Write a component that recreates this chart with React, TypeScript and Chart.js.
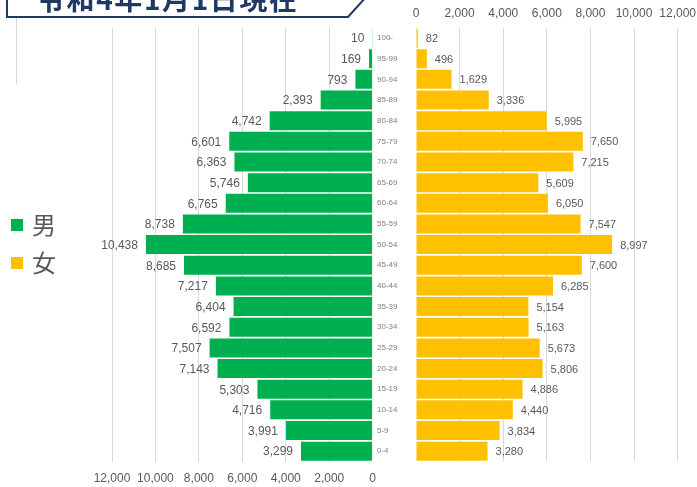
import React, { useEffect, useRef } from 'react';
import { Chart, registerables } from 'chart.js';

Chart.register(...registerables);

const ageGroups = ['100-', '95-99', '90-94', '85-89', '80-84', '75-79', '70-74', '65-69', '60-64', '55-59', '50-54', '45-49', '40-44', '35-39', '30-34', '25-29', '20-24', '15-19', '10-14', '5-9', '0-4'];
const male = [10, 169, 793, 2393, 4742, 6601, 6363, 5746, 6765, 8738, 10438, 8685, 7217, 6404, 6592, 7507, 7143, 5303, 4716, 3991, 3299];
const female = [82, 496, 1629, 3336, 5995, 7650, 7215, 5609, 6050, 7547, 8997, 7600, 6285, 5154, 5163, 5673, 5806, 4886, 4440, 3834, 3280];
const axisMax = 12000;
const axisStep = 2000;
const titleText = '令和4年1月1日現在';
const legendMale = '男';
const legendFemale = '女';

const GREEN = '#00B050';
const YELLOW = '#FFC000';
const GRID = '#d9d9d9';
const TICK = '#595959';
const FONT = "'Liberation Sans', Arial, sans-serif";

const fmt = (v: number) => v.toLocaleString('en-US');

function labelPlugin(side: 'left' | 'right') {
  return {
    id: 'valueLabels' + side,
    afterDatasetsDraw(chart: any) {
      const ctx = chart.ctx;
      const meta = chart.getDatasetMeta(0);
      const data = chart.data.datasets[0].data as number[];
      ctx.save();
      ctx.fillStyle = TICK;
      ctx.textBaseline = 'middle';
      if (side === 'left') {
        ctx.font = `12px ${FONT}`;
        ctx.textAlign = 'right';
      } else {
        ctx.font = `11px ${FONT}`;
        ctx.textAlign = 'left';
      }
      meta.data.forEach((bar: any, i: number) => {
        const x = side === 'left' ? bar.x - 8 : bar.x + 8;
        ctx.fillText(fmt(data[i]), x, bar.y + 1);
      });
      ctx.restore();
    },
  };
}

export default function App() {
  const leftRef = useRef<HTMLCanvasElement>(null);
  const rightRef = useRef<HTMLCanvasElement>(null);

  useEffect(() => {
    Chart.defaults.font.family = FONT;
    const gridColor = (c: any) => (c.tick && c.tick.value === 0 ? 'rgba(0,0,0,0)' : GRID);

    const left = new Chart(leftRef.current!, {
      type: 'bar',
      data: {
        labels: ageGroups,
        datasets: [{ data: male, backgroundColor: GREEN, categoryPercentage: 0.92, barPercentage: 1 }],
      },
      options: {
        indexAxis: 'y',
        responsive: false,
        animation: false,
        layout: { padding: { left: 112, right: 8, top: 27.7, bottom: 0 } },
        plugins: { legend: { display: false }, tooltip: { enabled: false } },
        scales: {
          y: { type: 'category', display: false },
          x: {
            position: 'bottom',
            reverse: true,
            min: 0,
            max: axisMax,
            border: { display: false },
            grid: { color: gridColor, drawTicks: false },
            ticks: {
              stepSize: axisStep,
              padding: 10,
              color: TICK,
              font: { size: 12 },
              callback: (v: any) => fmt(Number(v)),
            },
            afterFit: (s: any) => { s.height = 25.5; },
          },
        },
      },
      plugins: [labelPlugin('left')],
    } as any);

    const right = new Chart(rightRef.current!, {
      type: 'bar',
      data: {
        labels: ageGroups,
        datasets: [{ data: female, backgroundColor: YELLOW, categoryPercentage: 0.92, barPercentage: 1 }],
      },
      options: {
        indexAxis: 'y',
        responsive: false,
        animation: false,
        layout: { padding: { left: 4, right: 20, top: 0, bottom: 25.5 } },
        plugins: { legend: { display: false }, tooltip: { enabled: false } },
        scales: {
          y: {
            type: 'category',
            position: 'left',
            border: { display: false },
            grid: { display: false },
            ticks: { color: '#7f7f7f', font: { size: 8 }, crossAlign: 'far', padding: 0 },
            afterFit: (s: any) => { s.width = 39; },
          },
          x: {
            position: 'top',
            min: 0,
            max: axisMax,
            border: { display: false },
            grid: { color: gridColor, drawTicks: false },
            ticks: {
              stepSize: axisStep,
              padding: 7,
              color: TICK,
              font: { size: 12 },
              callback: (v: any) => fmt(Number(v)),
            },
            afterFit: (s: any) => { s.height = 27.7; },
          },
        },
      },
      plugins: [labelPlugin('right')],
    } as any);

    return () => {
      left.destroy();
      right.destroy();
    };
  }, []);

  return (
    <div style={{ position: 'absolute', left: 0, top: 0, width: 697, height: 487, overflow: 'hidden', background: '#fff', fontFamily: FONT }}>
      <canvas ref={leftRef} width={386} height={487} style={{ position: 'absolute', left: 0, top: 0 }} />
      <canvas ref={rightRef} width={330} height={487} style={{ position: 'absolute', left: 373, top: 0 }} />
      <div style={{ position: 'absolute', left: 16, top: 18, width: 1, height: 67, background: GRID }} />
      <svg width={697} height={40} style={{ position: 'absolute', left: 0, top: 0 }}>
        <polygon points="7,-4 7,17 348,17 367,-4" fill="#fff" stroke="#1f3864" strokeWidth={2} />
        <text x={37} y={10} textLength={260} lengthAdjust="spacing" fill="#1f3864"
          style={{ font: "bold 28px 'Noto Sans CJK JP', sans-serif" }}>{titleText}</text>
      </svg>
      <div style={{ position: 'absolute', left: 11, top: 219, width: 12, height: 12, background: GREEN }} />
      <div style={{ position: 'absolute', left: 32, top: 208, fontSize: 24, lineHeight: '32px', color: TICK, fontFamily: "'Noto Sans CJK JP', sans-serif" }}>{legendMale}</div>
      <div style={{ position: 'absolute', left: 11, top: 257, width: 12, height: 12, background: YELLOW }} />
      <div style={{ position: 'absolute', left: 32, top: 246, fontSize: 24, lineHeight: '32px', color: TICK, fontFamily: "'Noto Sans CJK JP', sans-serif" }}>{legendFemale}</div>
    </div>
  );
}
